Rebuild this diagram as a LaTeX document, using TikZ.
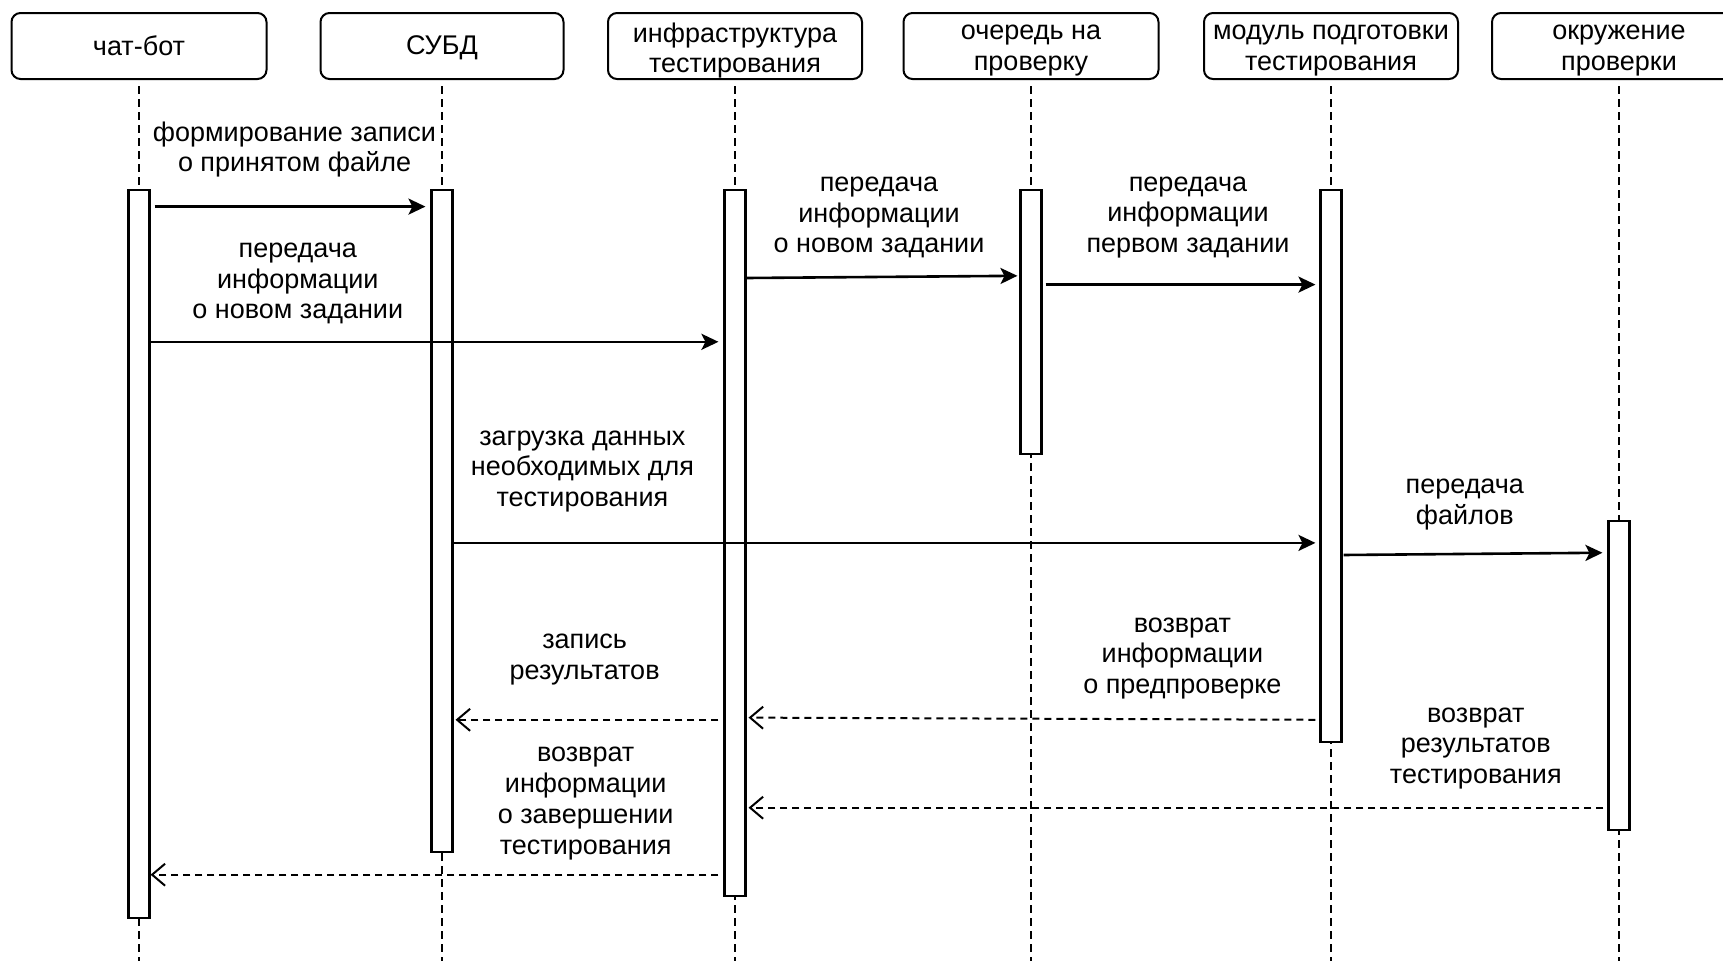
\documentclass[tikz,border=0pt]{standalone}
\usepackage{fontspec}
\setmainfont{Liberation Sans}
\usetikzlibrary{arrows.meta,calc}
\begin{document}
\begin{tikzpicture}[x=1pt,y=-1pt,
  every node/.style={font=\fontsize{27}{30.8}\selectfont},
  head/.style={draw, line width=2pt, rounded corners=9pt, minimum height=66pt, inner sep=0pt, align=center},
  bar/.style={draw, fill=white, line width=2.1pt, minimum width=21pt, inner sep=0pt},
  life/.style={line width=1.7pt, dash pattern=on 8pt off 5pt},
  msg/.style={line width=2.6pt, -{Stealth[length=17pt,width=16pt,inset=4pt]}},
  ret/.style={line width=2pt, dash pattern=on 7pt off 5pt, -{Straight Barb[length=13pt,width=22pt]}},
  lbl/.style={align=center, inner sep=0pt}]
\useasboundingbox (0,0) rectangle (1723,961);
\clip (0,0) rectangle (1723,961);
\coordinate (bot) at (0,961);
% header boxes
\node[head, minimum width=255pt] (h1) at (139,46) {чат-бот};
\node[head, minimum width=243pt, label={[lbl,yshift=-2pt]center:СУБД}] (h2) at (442,46) {};
\node[head, minimum width=254pt, label={[lbl,yshift=-4.5pt]center:{инфраструктура\\тестирования}}] (h3) at (735,46) {};
\node[head, minimum width=255pt, label={[lbl,yshift=-4.5pt]center:{очередь на\\проверку}}] (h4) at (1031,46) {};
\node[head, minimum width=254pt, label={[lbl,yshift=-4.5pt]center:{модуль подготовки\\тестирования}}] (h5) at (1331,46) {};
\node[head, minimum width=254pt, label={[lbl,yshift=-4.5pt]center:{окружение\\проверки}}] (h6) at (1619,46) {};
% lifelines
\foreach \h in {h1,h2,h3,h4,h5,h6}{
  \draw[life] ([yshift=-6pt]\h.south) -- (\h.south |- bot);
}
% activation bars
\node[bar, minimum height=727.6pt] (b1) at (139,553.8) {};
\node[bar, minimum height=661.6pt] (b2) at (442,520.8) {};
\node[bar, minimum height=705.6pt] (b3) at (735,542.8) {};
\node[bar, minimum height=263.8pt] (b4) at (1031,321.9) {};
\node[bar, minimum height=551.8pt] (b5) at (1331,465.9) {};
\node[bar, minimum height=308.8pt] (b6) at (1619,675.3) {};
% message levels
\coordinate (m1) at (0,206.6);
\coordinate (m2) at (0,341.8);
\coordinate (m3a) at (0,278);
\coordinate (m3b) at (0,275.8);
\coordinate (m4) at (0,284.6);
\coordinate (m5) at (0,542.9);
\coordinate (m6a) at (0,555);
\coordinate (m6b) at (0,552.7);
\coordinate (m7) at (0,719.8);
\coordinate (m8a) at (0,719.8);
\coordinate (m8b) at (0,717.6);
\coordinate (m9) at (0,807.7);
\coordinate (m10) at (0,874.7);
% messages
\draw[msg, shorten <=4pt, shorten >=5pt] (b1.east |- m1) -- (b2.west |- m1);
\draw[msg, shorten >=5pt] (b1.east |- m2) -- (b3.west |- m2);
\draw[msg, shorten >=2pt] (b3.east |- m3a) -- (b4.west |- m3b);
\draw[msg, shorten <=3pt, shorten >=4pt] (b4.east |- m4) -- (b5.west |- m4);
\draw[msg, shorten >=4pt] (b2.east |- m5) -- (b5.west |- m5);
\draw[msg, shorten <=1pt, shorten >=5pt] (b5.east |- m6a) -- (b6.west |- m6b);
\draw[ret, shorten <=5pt, shorten >=2pt] (b3.west |- m7) -- (b2.east |- m7);
\draw[ret, shorten <=4pt, shorten >=2pt] (b5.west |- m8a) -- (b3.east |- m8b);
\draw[ret, shorten <=4pt, shorten >=2pt] (b6.west |- m9) -- (b3.east |- m9);
\draw[ret, shorten <=5pt] (b3.west |- m10) -- (b1.east |- m10);
% labels
\node[lbl] (t1) at (294.5,149.5) {формирование записи\\о принятом файле};
\node[lbl] (t2) at (297.8,283.5) {передача\\информации\\о новом задании};
\node[lbl] (t3) at (879,217.5) {передача\\информации\\о новом задании};
\node[lbl] (t4) at (1188,217.5) {передача\\информации\\первом задании};
\node[lbl] (t5) at (582.4,471.5) {загрузка данных\\необходимых для\\тестирования};
\node[lbl] (t6) at (1464.8,504.4) {передача\\файлов};
\node[lbl] (t7) at (584.6,659.3) {запись\\результатов};
\node[lbl] (t8) at (1182.4,658.5) {возврат\\информации\\о предпроверке};
\node[lbl] (t9) at (1475.8,748.4) {возврат\\результатов\\тестирования};
\node[lbl] (t10) at (585.7,803.5) {возврат\\информации\\о завершении\\тестирования};
\end{tikzpicture}
\end{document}
